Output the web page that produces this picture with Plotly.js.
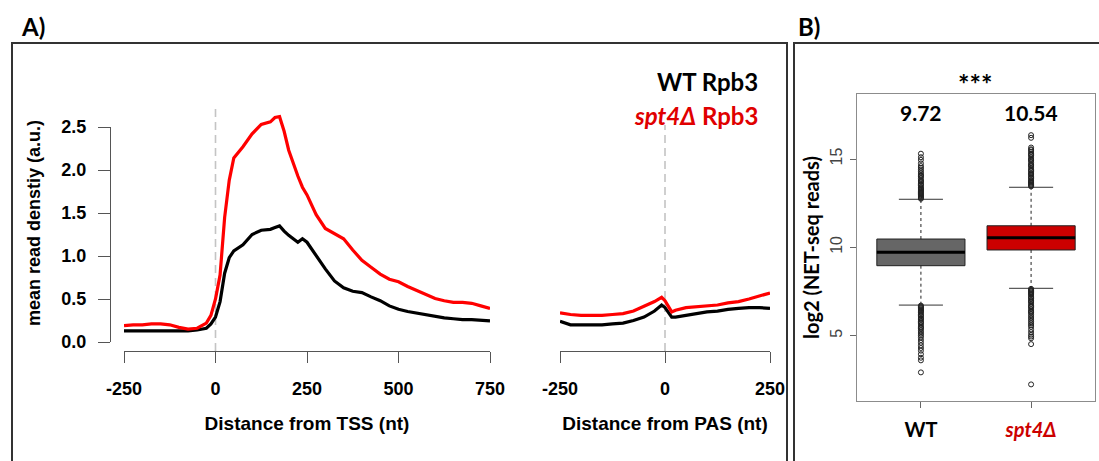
<!DOCTYPE html>
<html><head><meta charset="utf-8">
<script src="https://cdn.plot.ly/plotly-3.0.1.min.js"></script>
<style>html,body{margin:0;padding:0;background:#fff}#chart{width:1099px;height:461px}</style>
</head><body><div id="chart"></div>
<script>
// ---- data ----
const tssPos   = [-250,-225,-200,-175,-150,-125,-100,-75,-50,-25,-12.5,0,12.5,25,37.5,50,75,100,125,150,162.5,175,187.5,200,225,237.5,250,275,300,325,350,375,400,425,450,475,500,525,550,575,600,625,650,675,700,725,750];
const tssSpt4  = [0.19,0.20,0.20,0.21,0.21,0.20,0.17,0.15,0.16,0.22,0.31,0.50,0.78,1.45,1.88,2.14,2.27,2.42,2.53,2.56,2.61,2.62,2.45,2.23,1.93,1.80,1.71,1.48,1.32,1.26,1.20,1.07,0.95,0.87,0.79,0.73,0.70,0.645,0.595,0.545,0.505,0.48,0.46,0.46,0.45,0.42,0.39];
const tssWT    = [0.13,0.13,0.13,0.13,0.13,0.13,0.13,0.13,0.14,0.16,0.21,0.29,0.47,0.80,0.98,1.06,1.13,1.25,1.30,1.31,1.33,1.35,1.29,1.24,1.16,1.20,1.16,1.00,0.85,0.71,0.63,0.59,0.575,0.525,0.48,0.42,0.38,0.355,0.335,0.32,0.30,0.28,0.27,0.26,0.26,0.25,0.245];
const pasPos   = [-250,-225,-200,-175,-150,-125,-100,-75,-50,-25,-8,0,16,25,50,75,100,125,150,175,200,225,250];
const pasSpt4  = [0.34,0.32,0.31,0.31,0.31,0.32,0.33,0.36,0.41,0.47,0.52,0.48,0.35,0.37,0.40,0.41,0.42,0.43,0.455,0.47,0.50,0.535,0.57];
const pasWT    = [0.24,0.20,0.20,0.20,0.20,0.21,0.22,0.25,0.29,0.36,0.43,0.40,0.29,0.29,0.31,0.33,0.35,0.36,0.38,0.39,0.40,0.40,0.39];
const tssTicks = [-250,0,250,500,750];
const pasTicks = [-250,0,250];
const densityTicks = [0,0.5,1,1.5,2,2.5];

const boxGroups = ['WT','spt4Δ'];
const boxQ1 = [8.96, 9.85];
const boxMedian = [9.72, 10.54];
const boxQ3 = [10.47, 11.22];
const boxLowerWhisker = [6.73, 7.68];
const boxUpperWhisker = [12.72, 13.40];
const wtOutliers = [12.75,12.8,12.85,12.9,12.95,13.0,13.05,13.1,13.15,13.2,13.25,13.3,13.35,13.4,13.5,13.55,13.6,13.7,13.75,13.8,13.9,14.0,14.05,14.1,14.2,14.3,14.4,14.5,14.6,14.75,14.95,15.1,15.3,
  6.7,6.65,6.6,6.55,6.5,6.45,6.4,6.35,6.3,6.2,6.15,6.1,6.0,5.95,5.9,5.8,5.75,5.7,5.6,5.5,5.45,5.4,5.3,5.2,5.1,5.0,4.9,4.75,4.6,4.45,4.3,4.15,3.95,3.75,3.6,2.92];
const spt4Outliers = [13.45,13.5,13.55,13.6,13.65,13.7,13.75,13.8,13.9,13.95,14.0,14.1,14.15,14.2,14.3,14.35,14.4,14.5,14.6,14.65,14.7,14.8,14.9,14.95,15.0,15.1,15.2,15.25,15.3,15.4,15.5,15.55,15.65,16.2,16.35,
  7.65,7.6,7.55,7.5,7.45,7.4,7.35,7.3,7.2,7.15,7.1,7.0,6.95,6.9,6.8,6.7,6.65,6.6,6.5,6.4,6.35,6.3,6.2,6.1,6.0,5.9,5.8,5.7,5.6,5.5,5.35,5.2,5.05,4.95,4.85,4.52,2.24];
const readTicks = [5,10,15];
const tssAnchor = 0, pasAnchor = 0;

// ---- layout helpers ----
const W = 1099, H = 461;
const px = v => v / W;
const py = v => 1 - v / H;
const RED = '#ff0000', BOXRED = '#cc0000';
const ARIAL = 'Liberation Sans, Arial, sans-serif';
const CALIBRI = 'Lato, Open Sans, sans-serif';
const boxPos = boxGroups.map((g, i) => i + 1);
const boxColors = ['#666666', BOXRED];
const outlierSets = [wtOutliers, spt4Outliers];

const traces = [
  {x: tssPos, y: tssWT, xaxis: 'x', yaxis: 'y', mode: 'lines', line: {color: '#000', width: 3.2}, hoverinfo: 'skip'},
  {x: tssPos, y: tssSpt4, xaxis: 'x', yaxis: 'y', mode: 'lines', line: {color: RED, width: 3.2}, hoverinfo: 'skip'},
  {x: pasPos, y: pasWT, xaxis: 'x2', yaxis: 'y', mode: 'lines', line: {color: '#000', width: 3.2}, hoverinfo: 'skip'},
  {x: pasPos, y: pasSpt4, xaxis: 'x2', yaxis: 'y', mode: 'lines', line: {color: RED, width: 3.2}, hoverinfo: 'skip'},
  // keeps the display y-axis (y3) drawn
  {x: tssPos, y: tssWT, xaxis: 'x', yaxis: 'y3', mode: 'lines', opacity: 0, line: {width: 0}, hoverinfo: 'skip'},
  // boxes
  {type: 'bar', x: boxPos, base: boxQ1, y: boxQ3.map((q, i) => q - boxQ1[i]), width: 0.8,
   xaxis: 'x4', yaxis: 'y4', marker: {color: boxColors, line: {color: '#222', width: 1}}, hoverinfo: 'skip'}
];
boxPos.forEach((c, i) => {
  traces.push({x: [c, c, null, c, c], y: [boxQ3[i], boxUpperWhisker[i], null, boxQ1[i], boxLowerWhisker[i]],
    xaxis: 'x4', yaxis: 'y4', mode: 'lines', line: {color: '#222', width: 1, dash: '3px,3px'}, hoverinfo: 'skip'});
  traces.push({x: [c - 0.2, c + 0.2, null, c - 0.2, c + 0.2], y: [boxUpperWhisker[i], boxUpperWhisker[i], null, boxLowerWhisker[i], boxLowerWhisker[i]],
    xaxis: 'x4', yaxis: 'y4', mode: 'lines', line: {color: '#333', width: 1}, hoverinfo: 'skip'});
  traces.push({x: [c - 0.4, c + 0.4], y: [boxMedian[i], boxMedian[i]],
    xaxis: 'x4', yaxis: 'y4', mode: 'lines', line: {color: '#000', width: 3}, hoverinfo: 'skip'});
  traces.push({x: outlierSets[i].map(() => c), y: outlierSets[i], xaxis: 'x4', yaxis: 'y4', mode: 'markers',
    marker: {symbol: 'circle-open', size: 5, color: '#222', line: {width: 1}}, hoverinfo: 'skip'});
});

const tickFontA = {family: ARIAL, size: 18, color: '#000', weight: 'bold'};
const titleFontA = {family: ARIAL, size: 19, color: '#000', weight: 'bold'};

const layout = {
  width: W, height: H, margin: {l: 0, r: 0, t: 0, b: 0},
  paper_bgcolor: '#fff', plot_bgcolor: 'rgba(0,0,0,0)', showlegend: false,
  xaxis: {domain: [px(124), px(490)], range: [-250, 750], anchor: 'free', position: py(351),
    showline: true, linecolor: '#555', linewidth: 1, ticks: 'outside', ticklen: 11, tickcolor: '#555',
    tickvals: tssTicks, ticktext: tssTicks.map(String), showgrid: false, zeroline: false, tickfont: tickFontA, ticklabelstandoff: 10,
    title: {text: 'Distance from TSS (nt)', font: titleFontA, standoff: 19}},
  xaxis2: {domain: [px(560), px(770)], range: [-250, 250], anchor: 'free', position: py(351),
    showline: true, linecolor: '#555', linewidth: 1, ticks: 'outside', ticklen: 11, tickcolor: '#555',
    tickvals: pasTicks, ticktext: pasTicks.map(String), showgrid: false, zeroline: false, tickfont: tickFontA, ticklabelstandoff: 10,
    title: {text: 'Distance from PAS (nt)', font: titleFontA, standoff: 19}},
  yaxis: {domain: [py(351), py(95)], range: [(342 - 351) / 86, (342 - 95) / 86], anchor: 'free', position: px(110),
    showline: false, ticks: '', showticklabels: false, showgrid: false, zeroline: false,
    title: {text: 'mean read denstiy (a.u.)', font: {family: ARIAL, size: 18, color: '#000', weight: 'bold'}, standoff: 63}},
  yaxis3: {domain: [py(342), py(127)], range: [0, 2.5], anchor: 'free', position: px(110),
    showline: true, linecolor: '#555', linewidth: 1, ticks: 'outside', ticklen: 12, tickcolor: '#555',
    tickvals: densityTicks, tickformat: '.1f', showgrid: false, zeroline: false, tickfont: tickFontA, ticklabelstandoff: 8},
  xaxis4: {domain: [px(857), px(1095)], range: [0.42, 2.58], anchor: 'y4',
    showline: true, mirror: true, linecolor: '#8c8c8c', linewidth: 1, ticks: 'outside', ticklen: 6, tickcolor: '#666',
    tickvals: boxPos, ticktext: ['<b>WT</b>', '<b><i><span style="color:' + BOXRED + '">spt4Δ</span></i></b>'],
    showgrid: false, zeroline: false, tickfont: {family: CALIBRI, size: 20, color: '#000'}, ticklabelstandoff: 5},
  yaxis4: {domain: [py(401), py(94)], range: [1.30, 18.68], anchor: 'x4',
    showline: true, mirror: true, linecolor: '#8c8c8c', linewidth: 1, ticks: 'outside', ticklen: 6, tickcolor: '#666',
    tickvals: readTicks, tickangle: -90, showgrid: false, zeroline: false, ticklabelstandoff: 2,
    tickfont: {family: ARIAL, size: 16, color: '#444'},
    title: {text: 'log2 (NET-seq reads)', font: {family: CALIBRI, size: 20, color: '#000', weight: 'bold'}, standoff: 2}},
  shapes: [
    {type: 'rect', xref: 'paper', yref: 'paper', x0: px(12), x1: px(787), y0: py(43), y1: -0.05, line: {color: '#333', width: 2}},
    {type: 'rect', xref: 'paper', yref: 'paper', x0: px(794), x1: 1.01, y0: py(43), y1: -0.05, line: {color: '#333', width: 2}},
    {type: 'line', xref: 'x', yref: 'paper', x0: tssAnchor, x1: tssAnchor, y0: py(351), y1: py(108), layer: 'below',
     line: {color: '#c4c4c4', width: 1.6, dash: '8px,5px'}},
    {type: 'line', xref: 'x2', yref: 'paper', x0: pasAnchor, x1: pasAnchor, y0: py(351), y1: py(125), layer: 'below',
     line: {color: '#c4c4c4', width: 1.6, dash: '8px,5px'}}
  ],
  annotations: [
    {text: '<b>A)</b>', xref: 'paper', yref: 'paper', x: px(19), y: py(27), xanchor: 'left', yanchor: 'middle', showarrow: false,
     font: {family: CALIBRI, size: 24, color: '#000'}},
    {text: '<b>B)</b>', xref: 'paper', yref: 'paper', x: px(796), y: py(27), xanchor: 'left', yanchor: 'middle', showarrow: false,
     font: {family: CALIBRI, size: 24, color: '#000'}},
    {text: '<b>WT Rpb3</b>', xref: 'paper', yref: 'paper', x: px(760), y: py(82), xanchor: 'right', yanchor: 'middle', showarrow: false,
     font: {family: CALIBRI, size: 24, color: '#000'}},
    {text: '<b><i>spt4Δ</i> Rpb3</b>', xref: 'paper', yref: 'paper', x: px(760), y: py(115), xanchor: 'right', yanchor: 'middle', showarrow: false,
     font: {family: CALIBRI, size: 24, color: '#e00000'}},
    {text: '<b>***</b>', xref: 'paper', yref: 'paper', x: px(975), y: py(84), xanchor: 'center', yanchor: 'middle', showarrow: false,
     font: {family: CALIBRI, size: 27, color: '#000'}}
  ].concat(boxPos.map((c, i) => ({
    text: '<b>' + boxMedian[i].toFixed(2) + '</b>', xref: 'x4', yref: 'paper', x: c, y: py(113), xanchor: 'center', yanchor: 'middle',
    showarrow: false, font: {family: CALIBRI, size: 21, color: '#000'}})))
};

Plotly.newPlot('chart', traces, layout, {staticPlot: true, displayModeBar: false});
</script>
</body></html>
